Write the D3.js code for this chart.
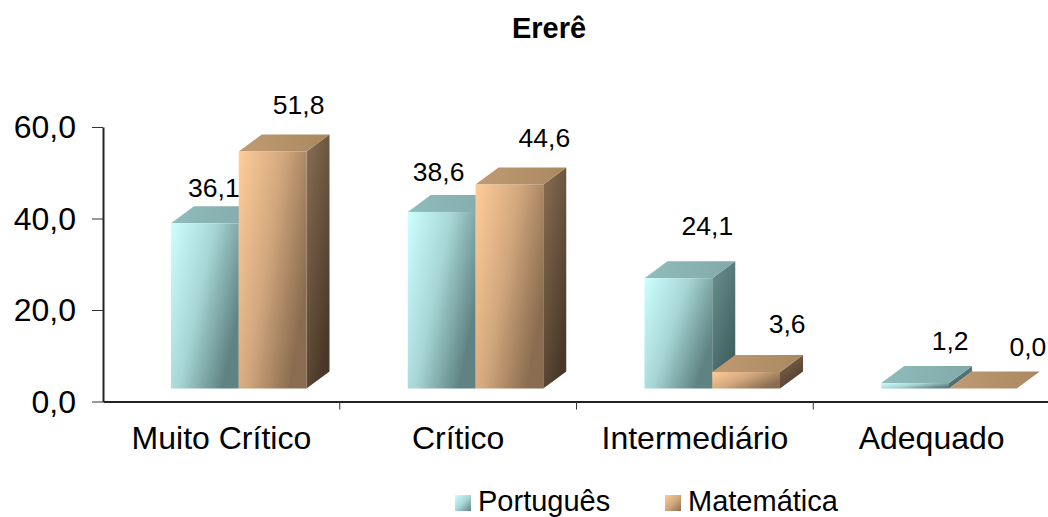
<!DOCTYPE html>
<html><head><meta charset="utf-8">
<script src="https://cdnjs.cloudflare.com/ajax/libs/d3/7.8.5/d3.min.js"></script>
<style>
html,body{margin:0;padding:0;background:#fff;overflow:hidden}
text{font-family:"Liberation Sans",Arial,sans-serif;fill:#000}
</style></head><body><script>
const categories = ["Muito Crítico","Crítico","Intermediário","Adequado"];
const seriesNames = ["Português","Matemática"];
const portugues = [36.1,38.6,24.1,1.2];
const matematica = [51.8,44.6,3.6,0.0];
const yTicks = [0,20,40,60];
const labelShiftPortugues = [[9,-26],[-3,-31],[29,-43],[35,-33]];
const labelShiftMatematica = [[26,-38],[35,-37],[41,-39],[45,-33]];

const W=1048,H=517;
const svg=d3.select("body").append("svg").attr("width",W).attr("height",H).style("display","block");
const defs=svg.append("defs");
const plot={l:103,r:1050,t:127,b:401.5};
const y=d3.scaleLinear().domain([0,60]).range([plot.b,plot.t]);
const x=d3.scaleBand().domain(categories).range([plot.l,plot.r]);
const sub=d3.scaleBand().domain(seriesNames).range([0,135.5]);
const depth={x:23,y:17};
const lift=13;      // front face of the 3D floor sits above the axis line
const barOffset=68; // bars start this far inside each category band

const palettes=[
 {id:"p",front:["#ccffff","#a8d6d6","#5f8383"],top:["#8fbcbc","#83a9a9"],side:["#6a8f8f","#3f5e5e"]},
 {id:"m",front:["#ffcc99","#d3a87e","#8a6d50"],top:["#c09a72","#a98860"],side:["#8a6f53","#493828"]}
];
palettes.forEach(c=>{
  const g=(id,stops,x2,y2)=>{
    const lg=defs.append("linearGradient").attr("id",id)
      .attr("x1",0).attr("y1",0).attr("x2",x2).attr("y2",y2);
    stops.forEach((s,i)=>lg.append("stop").attr("offset",i/(stops.length-1)).attr("stop-color",s));
  };
  g(c.id+"F",c.front,1,0.55);
  g(c.id+"T",c.top,1,0);
  g(c.id+"S",c.side,0.6,1);
  g(c.id+"L",c.front,1,1);
});

const groups=[
 {key:seriesNames[0],values:portugues,pal:palettes[0],shift:labelShiftPortugues},
 {key:seriesNames[1],values:matematica,pal:palettes[1],shift:labelShiftMatematica}
];
const gBars=svg.append("g");
categories.forEach((cat,i)=>{
  groups.forEach(s=>{
    const v=s.values[i];
    const x0=x(cat)+barOffset+sub(s.key),w=sub.bandwidth();
    const yB=y(0)-lift,yT=y(v)-lift,dx=depth.x,dy=depth.y;
    const pts=a=>a.map(p=>p.join(",")).join(" ");
    const g=gBars.append("g");
    g.append("polygon").attr("points",pts([[x0+w,yT],[x0+w+dx,yT-dy],[x0+w+dx,yB-dy],[x0+w,yB]]))
      .attr("fill",`url(#${s.pal.id}S)`);
    g.append("polygon").attr("points",pts([[x0,yT],[x0+w,yT],[x0+w+dx,yT-dy],[x0+dx,yT-dy]]))
      .attr("fill",`url(#${s.pal.id}T)`);
    if(v>0) g.append("rect").attr("x",x0).attr("y",yT).attr("width",w).attr("height",yB-yT)
      .attr("fill",`url(#${s.pal.id}F)`);
  });
});

const fmt=d=>d3.format(".1f")(d).replace(".",",");
svg.append("g").attr("transform",`translate(${plot.l},0)`)
  .call(d3.axisLeft(y).tickValues(yTicks).tickFormat(fmt).tickSize(11).tickSizeOuter(0).tickPadding(16))
  .call(g=>g.selectAll("line").attr("stroke","#333").attr("stroke-width",1))
  .call(g=>g.selectAll("text").attr("font-size",32).attr("dy","0.34em"))
  .call(g=>g.select(".domain").attr("stroke","#222").attr("stroke-width",2));
svg.append("g").attr("transform",`translate(0,${plot.b})`)
  .call(d3.axisBottom(x).tickSize(0).tickPadding(25))
  .call(g=>g.selectAll("text").attr("font-size",32))
  .call(g=>g.select(".domain").attr("stroke","#222").attr("stroke-width",2));
svg.append("g").selectAll("line").data(categories.slice(1)).join("line")
  .attr("x1",d=>x(d)).attr("x2",d=>x(d)).attr("y1",plot.b).attr("y2",plot.b+8)
  .attr("stroke","#333").attr("stroke-width",1);

groups.forEach(s=>{
  svg.append("g").selectAll("text").data(s.values).join("text")
    .attr("text-anchor","middle").attr("font-size",26.5)
    .attr("x",(d,i)=>x(categories[i])+barOffset+sub(s.key)+sub.bandwidth()/2+s.shift[i][0])
    .attr("y",(d,i)=>y(d)-lift+s.shift[i][1])
    .text(d=>fmt(d));
});

svg.append("text").attr("x",549).attr("y",38).attr("text-anchor","middle")
  .attr("font-size",29).attr("font-weight","bold").text("Ererê");

const legendX=d3.scaleOrdinal().domain(seriesNames).range([455,665]);
const lg=svg.append("g").selectAll("g").data(groups).join("g")
  .attr("transform",d=>`translate(${legendX(d.key)},495)`);
lg.append("rect").attr("width",16).attr("height",16).attr("fill",d=>`url(#${d.pal.id}L)`);
lg.append("text").attr("x",23).attr("y",16).attr("font-size",29).text(d=>d.key);
</script></body></html>
